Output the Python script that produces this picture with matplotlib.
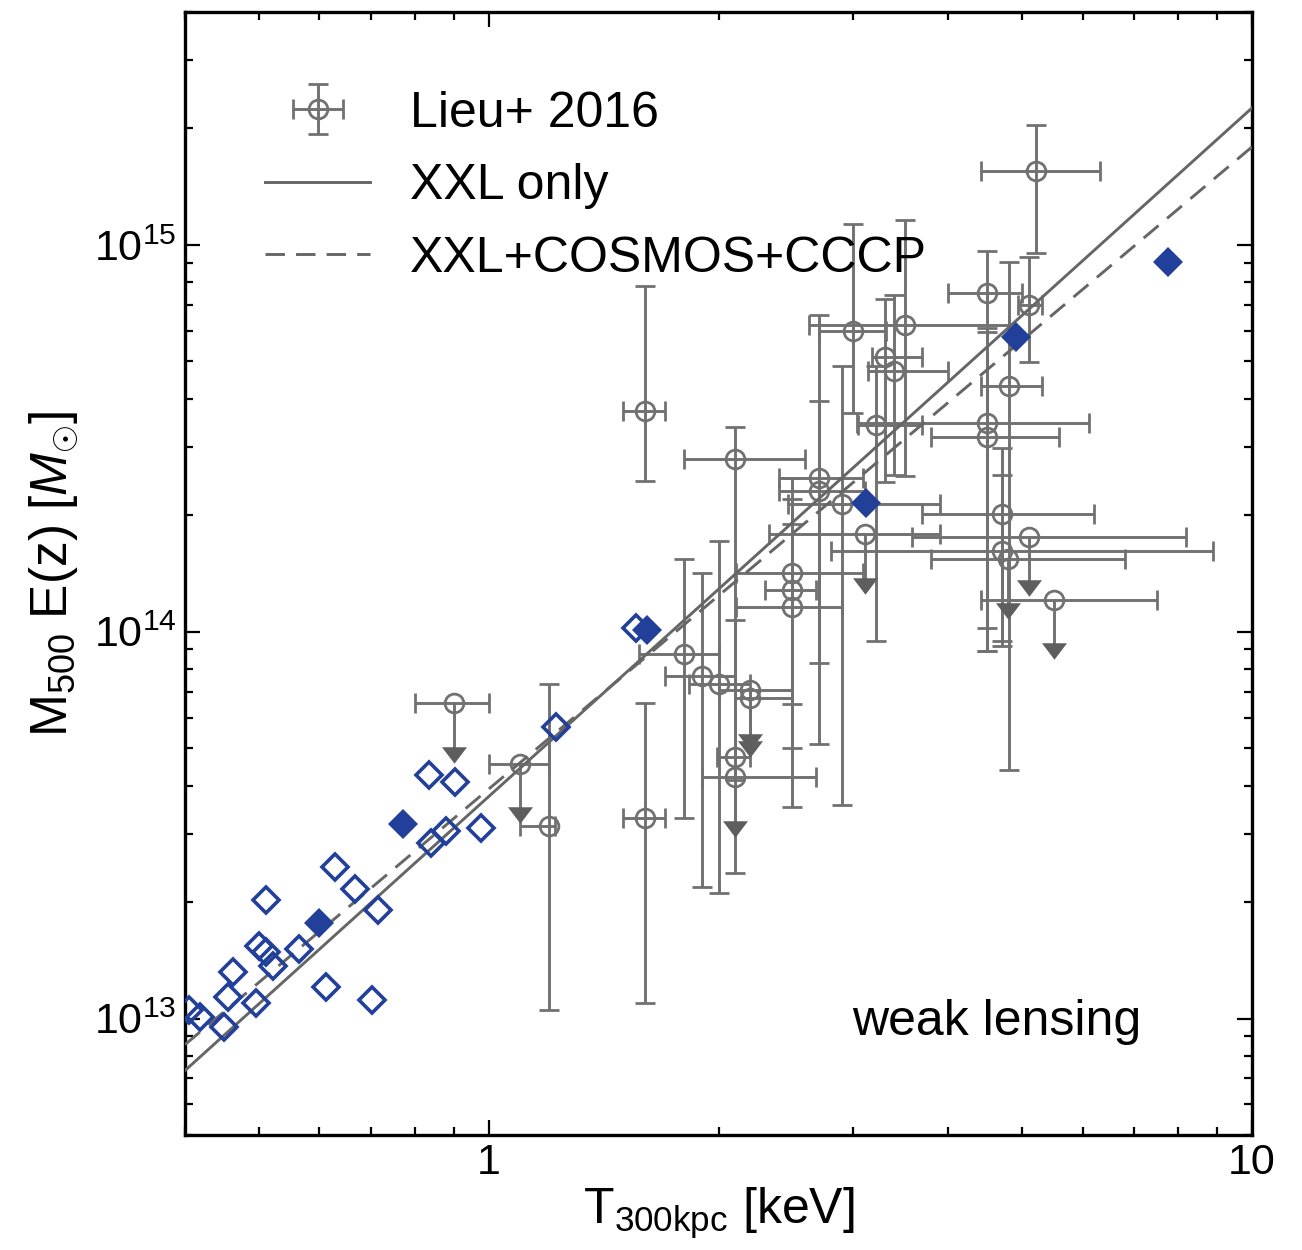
import numpy as np
import matplotlib
matplotlib.use("Agg")
import matplotlib.pyplot as plt
from matplotlib.ticker import FixedLocator, FixedFormatter, NullFormatter

plt.rcParams["font.family"] = ["Liberation Sans", "DejaVu Sans"]
plt.rcParams["mathtext.fontset"] = "custom"
plt.rcParams["mathtext.rm"] = "Liberation Sans"
plt.rcParams["mathtext.it"] = "Liberation Sans:italic"
plt.rcParams["mathtext.bf"] = "Liberation Sans:bold"
plt.rcParams["lines.scale_dashes"] = False

# ---- Lieu+ 2016 detections: T [keV] with range, M500 E(z) [Msun] with range
lieu_T = [5.21, 4.50, 5.11, 3.00, 3.51, 3.30, 3.40, 3.22, 4.50, 4.50, 4.81, 4.70,
          4.70, 2.71, 2.71, 2.90, 2.50, 2.50, 2.50, 1.80, 1.90, 2.00, 2.10, 1.60,
          1.60, 1.20, 2.10]
lieu_T_lo = [4.41, 4.00, 4.93, 2.71, 2.63, 3.18, 3.14, 3.05, 3.04, 3.80, 4.41, 3.70,
             2.81, 2.40, 2.40, 2.47, 2.11, 2.30, 2.11, 1.575, 1.70, 1.83, 1.99, 1.50,
             1.50, 1.10, 1.80]
lieu_T_hi = [6.33, 4.99, 5.31, 3.31, 4.81, 3.70, 4.00, 3.70, 6.11, 5.59, 5.31, 6.20,
             8.88, 3.09, 3.11, 3.90, 3.09, 2.685, 2.90, 2.00, 2.10, 2.20, 2.20, 1.70,
             1.70, 1.22, 2.60]
lieu_M = [1.55e15, 7.49e14, 7.00e14, 5.99e14, 6.21e14, 5.14e14, 4.73e14, 3.42e14,
          3.46e14, 3.18e14, 4.33e14, 2.02e14, 1.62e14, 2.50e14, 2.31e14, 2.14e14,
          1.42e14, 1.28e14, 1.16e14, 8.76e13, 7.70e13, 7.34e13, 4.73e13, 3.73e14,
          3.29e13, 3.14e13, 2.79e14]
lieu_M_lo = [9.54e14, 8.93e13, 4.99e14, 3.67e14, 2.52e14, 2.44e14, 2.54e14, 9.48e13,
             1.02e14, 8.93e13, 4.38e13, 9.48e13, 9.20e13, 5.14e13, 8.28e13, 3.56e13,
             3.52e13, 6.50e13, 5.00e13, 3.29e13, 2.19e13, 2.11e13, 2.38e13, 2.45e14,
             1.10e13, 1.05e13, 4.13e13]
lieu_M_hi = [2.04e15, 9.65e14, 9.31e14, 1.13e15, 1.16e15, 7.26e14, 7.43e14, 4.85e14,
             5.97e14, 6.11e14, 9.04e14, 2.99e14, 2.54e14, 6.60e14, 3.94e14, 4.85e14,
             2.49e14, 1.90e14, 2.20e14, 1.54e14, 1.42e14, 1.72e14, 1.07e14, 7.84e14,
             6.54e13, 7.34e13, 3.38e14]

# ---- Lieu+ 2016 upper limits on mass
ul_T = [4.79, 5.11, 5.51, 3.11, 2.20, 2.20, 2.10, 0.90, 1.10]
ul_T_lo = [3.80, 3.59, 4.41, 2.33, 2.00, 2.10, 1.90, 0.80, 1.00]
ul_T_hi = [6.81, 8.20, 7.51, 3.90, 2.50, 2.50, 2.685, 1.00, 1.20]
ul_M = [1.54e14, 1.76e14, 1.21e14, 1.785e14, 7.05e13, 6.76e13, 4.20e13, 6.54e13, 4.56e13]

# ---- XXL weak-lensing clusters (open and filled diamonds)
open_T = [0.405, 0.418, 0.450, 0.455, 0.462, 0.496, 0.500, 0.510, 0.511, 0.521,
          0.564, 0.612, 0.629, 0.668, 0.704, 0.716, 0.836, 0.904, 0.841, 0.879,
          0.977, 1.225, 1.561]
open_M = [1.055e13, 1.01e13, 9.5e12, 1.14e13, 1.32e13, 1.10e13, 1.54e13, 1.49e13,
          2.03e13, 1.37e13, 1.51e13, 1.21e13, 2.47e13, 2.16e13, 1.12e13, 1.91e13,
          4.27e13, 4.09e13, 2.84e13, 3.06e13, 3.10e13, 5.67e13, 1.02e14]
fill_T = [0.600, 0.771, 1.613, 3.12, 4.91, 7.75]
fill_M = [1.77e13, 3.18e13, 1.01e14, 2.15e14, 5.79e14, 9.04e14]

# ---- scaling-relation fits: M = norm * (T / 1 keV) ** slope
fit_T = [0.4, 10.0]
xxl_norm, xxl_slope = 3.75e13, 1.78
comb_norm, comb_slope = 3.92e13, 1.66

x_ticks = [1, 10]
x_ticklabels = ["1", "10"]
y_ticks = [1e13, 1e14, 1e15]
y_ticklabels = [r"$\mathregular{10^{13}}$", r"$\mathregular{10^{14}}$",
                r"$\mathregular{10^{15}}$"]

GREY = "#717171"
ARROW = "#5e5e5e"
LINE = "#666666"
BLUE = "#22409a"

fig = plt.figure(figsize=(13.02, 12.5), dpi=100)
ax = fig.add_axes([0.1421, 0.092, 0.8195, 0.8984])
ax.set_xscale("log")
ax.set_yscale("log")
ax.set_xlim(0.4, 10)
ax.set_ylim(5e12, 4e15)

eb_style = dict(fmt="o", ms=13.5, mfc="none", mec=GREY, mew=2.0, ecolor=GREY,
                elinewidth=2.1, capsize=7.5, capthick=2.1, zorder=2)

T = np.array(lieu_T)
M = np.array(lieu_M)
xerr = [T - np.array(lieu_T_lo), np.array(lieu_T_hi) - T]
yerr = [M - np.array(lieu_M_lo), np.array(lieu_M_hi) - M]
eb = ax.errorbar(T, M, xerr=xerr, yerr=yerr, label="Lieu+ 2016", **eb_style)

uT = np.array(ul_T)
uM = np.array(ul_M)
uxerr = [uT - np.array(ul_T_lo), np.array(ul_T_hi) - uT]
ax.errorbar(uT, uM, xerr=uxerr, **eb_style)
# downward arrows for the upper limits
for t, m in zip(uT, uM):
    ax.plot([t, t], [m, m * 0.76], color=GREY, lw=2.1, zorder=2)
tri = [(-1.0, 0.66), (1.0, 0.66), (0.0, -0.66)]
ax.plot(uT, uM * 0.735, ls="none", marker=tri, ms=18, color=ARROW, mew=0, zorder=2)

fT = np.array(fit_T)
l1, = ax.plot(fT, xxl_norm * fT ** xxl_slope, color=LINE, lw=2.1, zorder=3,
              label="XXL only")
l2, = ax.plot(fT, comb_norm * fT ** comb_slope, color=LINE, lw=2.1, zorder=3,
              ls=(0, (14, 8)), label="XXL+COSMOS+CCCP")

ax.plot(open_T, open_M, ls="none", marker="D", ms=13, mfc="none", mec=BLUE,
        mew=2.6, zorder=4)
ax.plot(fill_T, fill_M, ls="none", marker="D", ms=15, color=BLUE, mew=0, zorder=4)

ax.xaxis.set_major_locator(FixedLocator(x_ticks))
ax.xaxis.set_major_formatter(FixedFormatter(x_ticklabels))
ax.xaxis.set_minor_locator(FixedLocator([0.4, 0.5, 0.6, 0.7, 0.8, 0.9,
                                         2, 3, 4, 5, 6, 7, 8, 9]))
ax.xaxis.set_minor_formatter(NullFormatter())
ax.yaxis.set_major_locator(FixedLocator(y_ticks))
ax.yaxis.set_major_formatter(FixedFormatter(y_ticklabels))
ax.yaxis.set_minor_locator(FixedLocator([k * 10.0 ** e for e in (12, 13, 14, 15)
                                         for k in range(2, 10)]))
ax.yaxis.set_minor_formatter(NullFormatter())

ax.tick_params(which="both", direction="in", top=True, right=True, width=1.6,
               labelsize=31)
ax.tick_params(which="major", length=11, pad=6)
ax.tick_params(which="minor", length=5.5)
for s in ax.spines.values():
    s.set_linewidth(2.4)

ax.set_xlabel(r"T$_{\mathregular{300kpc}}$ [keV]", fontsize=36, labelpad=2)
ax.set_ylabel(r"M$_{\mathregular{500}}$ E(z) [$M_{\odot}$]", fontsize=37, labelpad=10)

ax.text(0.625, 0.089, "weak lensing", transform=ax.transAxes, fontsize=36,
        ha="left", va="baseline")

ax.legend(handles=[eb, l1, l2], loc="upper left", bbox_to_anchor=(0.033, 0.97),
          frameon=False, fontsize=36, handlelength=2.1, handletextpad=0.8,
          labelspacing=0.53, borderpad=0.4, numpoints=1)

fig.savefig("out.png", dpi=100)
